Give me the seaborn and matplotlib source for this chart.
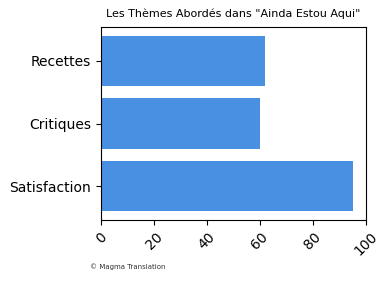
import matplotlib
matplotlib.use("Agg")
import matplotlib.pyplot as plt
import seaborn as sns
import pandas as pd

categories = ["Recettes", "Critiques", "Satisfaction"]
values = [62, 60, 95]
xticks = [0, 20, 40, 60, 80, 100]

df = pd.DataFrame({"theme": categories, "valeur": values})

fig = plt.figure(figsize=(3.9, 2.82), dpi=100)
ax = fig.add_axes([0.259, 0.22, 0.679, 0.684])
sns.barplot(data=df, x="valeur", y="theme", order=categories, color="#4a90e2",
            saturation=1, width=0.8, ax=ax)
ax.set_xlim(0, 100)
ax.set_ylim(2.54, -0.54)
ax.set_xticks(xticks)
ax.set_xticklabels([str(t) for t in xticks], rotation=45, fontsize=10)
ax.tick_params(axis="y", labelsize=10)
ax.set_xlabel("")
ax.set_ylabel("")
ax.set_title('Les Thèmes Abordés dans "Ainda Estou Aqui"', fontsize=8, pad=7)
fig.text(0.23, 0.045, "© Magma Translation", fontsize=5, color="#333333")
fig.savefig("out.png", dpi=100)
